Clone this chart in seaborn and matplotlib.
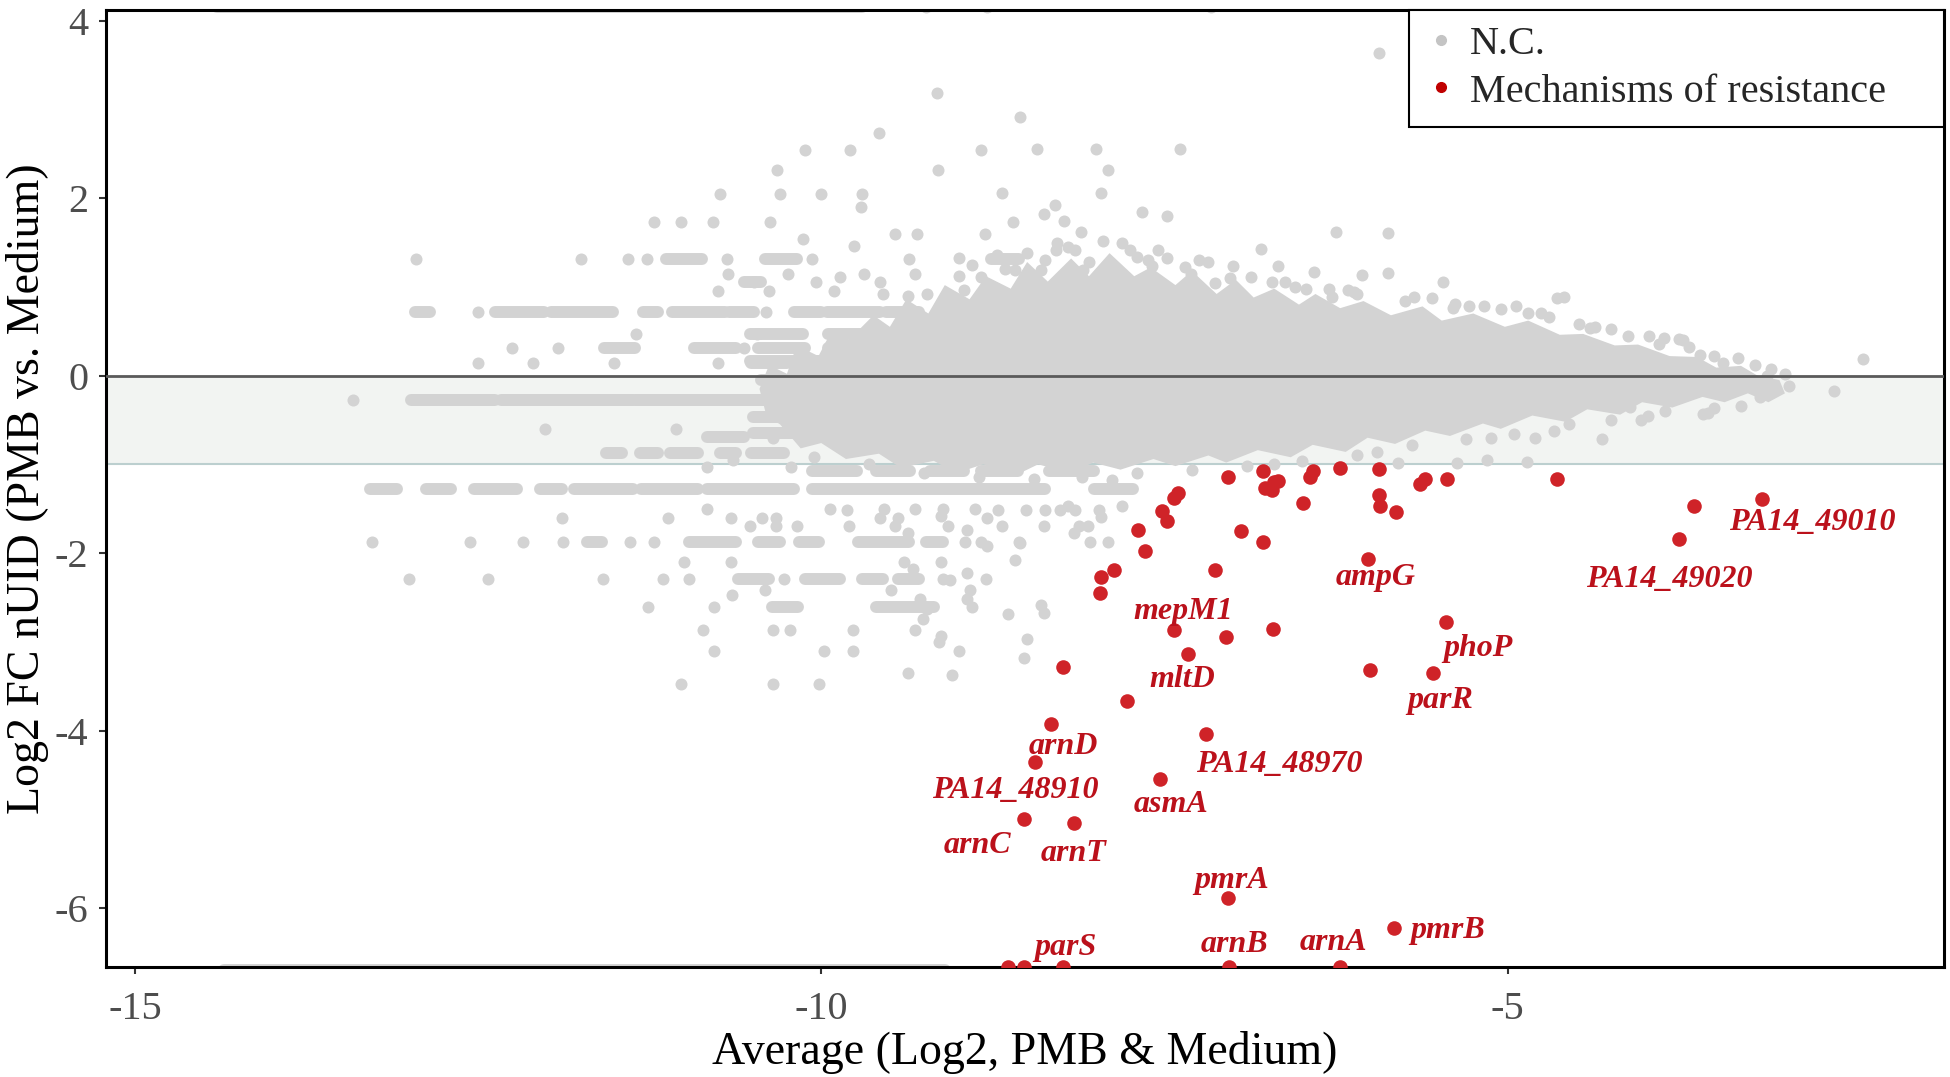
import numpy as np
import pandas as pd
import matplotlib
matplotlib.use("Agg")
import matplotlib.pyplot as plt
import seaborn as sns
from matplotlib.lines import Line2D

# ---- data ----
# outline of the saturated core of the N.C. cloud
core_x = [-10.45, -10.38, -10.25, -10.18, -10.02, -9.92, -9.8, -9.62, -9.5, -9.38, -9.22, -9.1,
          -8.92, -8.8, -8.62, -8.5, -8.35, -8.18, -8.05, -7.9, -7.72, -7.6, -7.42, -7.3, -7.12,
          -6.98, -6.85, -6.7, -6.52, -6.4, -6.22, -6.05, -5.85, -5.62, -5.48, -5.25, -5.02, -4.85,
          -4.62, -4.45, -4.22, -4.05, -3.82, -3.62, -3.48, -3.3, -3.18, -3.02,
          -2.98, -3.1,
          -3.25, -3.42, -3.58, -3.8, -4.02, -4.18, -4.42, -4.58, -4.82, -5.05, -5.18, -5.42, -5.6,
          -5.82, -6.02, -6.18, -6.42, -6.58, -6.82, -7.05, -7.18, -7.42, -7.58, -7.82, -8.02, -8.18,
          -8.42, -8.58, -8.82, -9.02, -9.18, -9.42, -9.58, -9.82, -10.0, -10.15, -10.3, -10.4]
core_y = [-0.15, 0.12, 0.02, 0.34, 0.22, 0.52, 0.4, 0.68, 0.55, 0.86, 0.7, 1.02,
          0.86, 1.12, 0.98, 1.28, 1.06, 1.32, 1.12, 1.38, 1.12, 1.22, 1.02, 1.18, 0.92,
          1.08, 0.88, 0.98, 0.8, 0.92, 0.76, 0.84, 0.68, 0.78, 0.62, 0.7, 0.55, 0.62,
          0.46, 0.47, 0.34, 0.35, 0.22, 0.21, 0.09, 0.11, 0.0, -0.05,
          -0.2, -0.3,
          -0.2, -0.3, -0.24, -0.36, -0.3, -0.44, -0.38, -0.52, -0.45, -0.6, -0.54, -0.68, -0.62,
          -0.77, -0.7, -0.86, -0.78, -0.92, -0.84, -0.98, -0.9, -1.02, -0.94, -1.06, -0.98, -1.1,
          -1.0, -1.12, -1.0, -1.1, -0.96, -1.04, -0.88, -0.94, -0.76, -0.82, -0.55, -0.45]

# runs of touching N.C. points (same y, from x0 to x1)
run_y = [0.72, 0.72, 0.72, 0.72, 0.72, 0.72, 0.72, 0.72, 0.72,
         1.31, 1.31, 1.31, 1.05,
         0.31, 0.31, 0.31, 0.31, 0.14, 0.47, 0.47, 0.17, 0.17,
         -0.27, -0.27, -0.27, -0.27, -0.27,
         -0.47, -0.47, -0.65, -0.65, -0.69, -0.05,
         -0.87, -0.87, -0.87, -0.87, -0.87,
         -1.07, -1.07, -1.07, -1.07, -1.07,
         -1.28, -1.28, -1.28, -1.28, -1.28, -1.28, -1.28, -1.28, -1.28,
         -1.87, -1.87, -1.87, -1.87, -1.87, -1.87,
         -2.29, -2.29, -2.29, -2.29, -2.61, -2.61,
         4.15, -6.70]
run_x0 = [-12.96, -12.38, -11.97, -11.30, -11.09, -10.67, -10.20, -9.96, -9.53,
          -11.13, -10.41, -8.76, -10.56,
          -11.58, -10.93, -10.46, -9.95, -10.51, -10.52, -9.95, -10.52, -9.68,
          -12.99, -12.33, -11.36, -10.28, -9.78,
          -10.50, -9.85, -10.50, -9.79, -10.83, -10.44,
          -11.57, -11.32, -11.10, -10.74, -10.51,
          -10.07, -9.60, -9.21, -8.84, -8.34,
          -13.29, -12.88, -12.53, -12.05, -11.80, -11.31, -10.83, -10.07, -8.01,
          -11.71, -10.96, -10.46, -10.16, -9.73, -9.24,
          -10.61, -10.12, -9.70, -9.44, -10.36, -9.60,
          -14.40, -14.35]
run_x1 = [-12.85, -12.02, -11.52, -11.19, -10.70, -10.49, -10.00, -9.57, -9.29,
          -10.87, -10.18, -8.56, -10.44,
          -11.36, -10.62, -10.12, -9.60, -10.25, -10.13, -9.70, -9.85, -9.35,
          -12.38, -11.37, -10.30, -9.83, -9.40,
          -9.93, -9.60, -9.96, -9.29, -10.56, -10.30,
          -11.45, -11.19, -10.90, -10.62, -10.27,
          -9.74, -9.35, -8.96, -8.57, -8.01,
          -13.09, -12.70, -12.22, -11.89, -11.37, -10.90, -10.20, -8.37, -7.73,
          -11.60, -10.62, -10.30, -10.02, -9.36, -9.11,
          -10.38, -9.86, -9.55, -9.29, -10.17, -9.18,
          -9.70, -9.10]

# single N.C. points
nc_x = [-5.94, -9.16, -8.55, -9.58,
        -10.12, -9.79, -8.84, -8.43, -8.00, -7.39,
        -10.32, -9.15, -7.91,
        -10.74, -10.30, -10.00, -9.70, -8.68, -7.96,
        -9.71, -8.38, -8.30, -7.66, -7.48,
        -11.22, -11.02, -10.79, -10.37, -8.60, -8.23,
        -9.46, -9.30, -8.81, -8.11, -6.25, -5.87,
        -10.13, -9.76, -6.80, -7.95, -7.81, -8.29, -8.15,
        -12.95, -11.75, -11.41, -11.27, -10.69, -10.07, -9.36, -9.00, -8.37, -7.70, -7.48,
        -7.59, -7.00, -6.67, -6.41, -6.06, -5.87,
        -10.68, -10.24, -9.69, -9.32, -9.86, -8.59, -8.40, -8.09, -7.87, -7.31, -8.84,
        -10.04, -9.57, -10.49, -7.13, -6.87, -5.47,
        -10.75, -10.38, -9.91, -9.55, -9.37, -9.23, -9.07, -8.96, -8.73, -6.47, -6.28, -6.12,
        -4.64, -4.59, -5.68, -5.38, -5.17, -4.94,
        -11.35, -10.47,
        -4.40, -3.97, -3.75, -3.72, -3.60, -3.43, -3.11, -3.16, -2.41, -2.62,
        -12.50, -10.40,
        -12.25, -11.92, -10.56,
        -12.50, -12.10, -11.51, -10.75,
        -13.41,
        -12.01, -11.06,
        -10.64, -10.83, -10.22,
        -3.54, -4.03, -4.31, -4.80, -4.86, -5.15, -5.37, -5.80, -4.11, -3.58,
        -10.83, -9.94, -9.54, -9.32, -9.11, -8.88,
        -11.89, -11.12, -10.66, -10.43, -10.33, -9.57, -9.44, -8.79,
        -10.52, -10.33, -10.18, -9.80,
        -9.81, -8.71, -8.51, -8.37, -8.26, -8.15, -7.98,
        -9.46, -9.08, -8.68, -8.12, -8.06,
        -9.37, -9.13, -8.94, -8.79, -8.55, -8.375, -8.16, -7.96, -7.81, -8.20,
        -13.27, -12.56, -12.17, -11.88, -11.39, -11.22, -8.95, -8.84, -8.56, -8.04, -7.91,
        -11.00, -10.66, -9.40, -9.13, -8.59,
        -13.00, -12.43, -11.59, -11.15, -10.96, -10.27, -9.11, -8.80,
        -9.33, -9.06, -8.94,
        -10.41, -9.49, -8.92, -10.65,
        -9.28, -8.94,
        -11.26, -10.78, -8.90, -8.64, -8.40, -8.375, -9.23,
        -9.26,
        -10.86, -10.35, -10.23, -9.77, -9.32,
        -9.14, -9.13, -8.50,
        -10.78, -9.98, -9.77, -9.00, -8.52,
        -9.05, -9.37,
        -11.02, -10.35, -10.02,
        -9.24, -8.79, -7.16,
        # ragged edge of the core
        -9.00, -8.90, -8.66, -8.50, -8.20, -8.05, -7.75, -7.62, -7.35, -7.18, -7.02, -6.72,
        -6.55, -6.30, -6.10, -5.75, -5.55, -5.28, -5.05, -4.85, -4.70, -4.48, -4.25, -4.12,
        -3.90, -3.68, -3.50, -3.32, -3.20, -3.08, -2.98, -2.95,
        -3.30, -3.50, -3.85, -4.25, -4.55, -4.95, -5.30, -5.70, -6.10, -6.50, -6.90, -7.30,
        -7.70, -8.10, -8.45, -8.85, -9.25, -9.65, -10.05, -10.35,
        -8.72, -8.28, -7.55, -7.25, -6.62, -6.16, -5.40, -4.76, -4.36, -3.86,
        -5.95, -5.12, -4.66, -3.98, -6.70, -7.88]
nc_y = [3.63, 3.19, 2.91, 2.73,
        2.54, 2.54, 2.54, 2.55, 2.55, 2.55,
        2.32, 2.32, 2.32,
        2.05, 2.05, 2.05, 2.05, 2.06, 2.06,
        1.90, 1.82, 1.92, 1.84, 1.80,
        1.73, 1.73, 1.73, 1.73, 1.73, 1.74,
        1.60, 1.60, 1.60, 1.62, 1.62, 1.61,
        1.54, 1.46, 1.43, 1.52, 1.49, 1.41, 1.41,
        1.31, 1.31, 1.31, 1.31, 1.31, 1.31, 1.31, 1.33, 1.30, 1.34, 1.32,
        1.24, 1.24, 1.24, 1.17, 1.13, 1.16,
        1.15, 1.15, 1.15, 1.15, 1.11, 1.19, 1.19, 1.19, 1.22, 1.15, 1.11,
        1.05, 1.05, 1.06, 1.04, 1.11, 1.05,
        0.95, 0.95, 0.95, 0.92, 0.90, 0.92, 0.89, 0.96, 0.89, 0.98, 0.89, 0.94,
        0.87, 0.89, 0.89, 0.81, 0.78, 0.78,
        0.47, 0.47,
        0.54, 0.45, 0.41, 0.40, 0.23, 0.14, -0.01, -0.24, 0.19, -0.17,
        0.72, 0.72,
        0.31, 0.31, 0.31,
        0.14, 0.14, 0.14, 0.14,
        -0.27,
        -0.60, -0.60,
        -0.95, -1.03, -1.03,
        -0.42, -0.50, -0.71, -0.70, -0.97, -0.95, -0.98, -0.99, -0.35, -0.43,
        -1.50, -1.50, -1.50, -1.50, -1.50, -1.50,
        -1.61, -1.61, -1.61, -1.61, -1.61, -1.61, -1.61, -1.61,
        -1.70, -1.70, -1.70, -1.70,
        -1.52, -1.52, -1.52, -1.52, -1.52, -1.52, -1.52,
        -1.70, -1.70, -1.70, -1.70, -1.70,
        -1.77, -1.58, -1.74, -1.92, -1.89, -1.70, -1.77, -1.59, -1.47, -1.47,
        -1.87, -1.87, -1.87, -1.87, -1.87, -1.87, -1.87, -1.87, -1.87, -1.87, -1.87,
        -2.10, -2.10, -2.10, -2.10, -2.08,
        -2.29, -2.29, -2.29, -2.29, -2.29, -2.29, -2.29, -2.29,
        -2.18, -2.30, -2.22,
        -2.42, -2.42, -2.42, -2.47,
        -2.52, -2.52,
        -2.61, -2.61, -2.61, -2.69, -2.58, -2.67, -2.63,
        -2.74,
        -2.87, -2.87, -2.87, -2.87, -2.87,
        -3.00, -2.93, -2.97,
        -3.10, -3.10, -3.10, -3.10, -3.18,
        -3.37, -3.35,
        -3.47, -3.47, -3.47,
        4.15, 4.15, 4.15,
        1.12, 1.25, 1.20, 1.38, 1.45, 1.28, 1.42, 1.30, 1.22, 1.28, 1.10, 1.05,
        1.00, 0.98, 0.92, 0.84, 0.88, 0.78, 0.75, 0.70, 0.66, 0.58, 0.52, 0.45,
        0.36, 0.32, 0.22, 0.20, 0.12, 0.08, 0.02, -0.12,
        -0.34, -0.36, -0.40, -0.50, -0.55, -0.66, -0.72, -0.78, -0.90, -0.96, -1.02, -1.06,
        -1.10, -1.14, -1.16, -1.14, -1.10, -1.00, -0.92, -0.70,
        1.36, 1.50, 1.42, 1.30, 1.06, 0.96, 0.76, 0.70, 0.55, 0.42,
        -0.86, -0.70, -0.62, -0.46, -1.00, -1.18]

# mechanisms of resistance
mr_x = [-7.04, -6.78, -6.77, -6.70, -6.67, -6.72, -6.42, -6.44, -6.22, -5.94,
        -5.94, -5.93, -5.81, -6.49, -5.64, -5.60, -5.44, -4.64, -7.40, -7.43,
        -7.52, -7.48, -7.69, -7.64, -7.87, -7.96, -7.97, -6.94, -6.78, -7.13,
        -6.02, -3.15, -3.64, -3.75, -7.43, -7.05, -6.71, -7.33, -5.45, -5.54,
        -6.00, -8.24, -7.77, -8.33, -7.20, -8.44, -7.53, -8.52, -8.16, -7.04,
        -5.825, -8.64, -8.52, -8.24, -7.03, -6.22]
mr_y = [-1.14, -1.07, -1.27, -1.20, -1.19, -1.29, -1.08, -1.14, -1.04, -1.05,
        -1.34, -1.47, -1.54, -1.44, -1.22, -1.17, -1.17, -1.16, -1.32, -1.38,
        -1.53, -1.64, -1.74, -1.98, -2.19, -2.27, -2.45, -1.75, -1.87, -2.19,
        -2.07, -1.39, -1.47, -1.84, -2.87, -2.95, -2.86, -3.14, -2.78, -3.35,
        -3.32, -3.28, -3.67, -3.93, -4.04, -4.36, -4.55, -5.00, -5.04, -5.89,
        -6.22, -6.67, -6.67, -6.67, -6.67, -6.67]

gene_labels = ["PA14_49010", "PA14_49020", "ampG", "mepM1", "phoP", "mltD", "parR",
               "arnD", "PA14_48970", "PA14_48910", "asmA", "arnC", "arnT", "pmrA",
               "pmrB", "parS", "arnB", "arnA"]
gene_x = [-2.78, -3.82, -5.96, -7.36, -5.22, -7.37, -5.49, -8.24, -6.66, -8.59,
          -7.45, -8.86, -8.16, -7.01, -5.44, -8.22, -6.99, -6.27]
gene_y = [-1.65, -2.30, -2.27, -2.66, -3.07, -3.42, -3.66, -4.18, -4.38, -4.68,
          -4.83, -5.30, -5.38, -5.69, -6.25, -6.44, -6.41, -6.39]

legend_labels = ["N.C.", "Mechanisms of resistance"]

GREY = "#d3d3d3"
RED = "#cf2328"
LABEL_RED = "#bb111b"

sns.set_style("ticks")
plt.rcParams["font.family"] = ["Liberation Serif", "DejaVu Serif"]
plt.rcParams["axes.unicode_minus"] = False

fig = plt.figure(figsize=(19.5, 10.77), dpi=100)
ax = fig.add_axes([0.0544, 0.1017, 0.9426, 0.889])

# band between 0 and -1
ax.axhspan(-1, 0, color="#f2f4f2", lw=0, zorder=0)
ax.axhline(-1, color="#bccfcf", lw=1.5, zorder=1)

# N.C. cloud
ax.fill(core_x, core_y, color=GREY, lw=0, zorder=2)
runs = ax.hlines(run_y, run_x0, run_x1, colors=GREY, linewidth=8.6, zorder=2)
runs.set_capstyle("round")
nc = pd.DataFrame({"x": nc_x, "y": nc_y})
sns.scatterplot(data=nc, x="x", y="y", s=75, color=GREY, linewidth=0, ax=ax, zorder=2)

ax.axhline(0, color="#5a5a5a", lw=2, zorder=3)

mr = pd.DataFrame({"x": mr_x, "y": mr_y})
sns.scatterplot(data=mr, x="x", y="y", s=110, color=RED, linewidth=0, ax=ax, zorder=4)

for t, x, y in zip(gene_labels, gene_x, gene_y):
    ax.text(x, y, t, color=LABEL_RED, fontsize=23, fontweight="bold", fontstyle="italic",
            ha="center", va="center", zorder=5)

ax.set_xlim(-15.21, -1.82)
ax.set_ylim(-6.67, 4.12)
ax.set_xticks([-15, -10, -5])
ax.set_yticks([-6, -4, -2, 0, 2, 4])
ax.tick_params(axis="both", labelsize=29, labelcolor="#4d4d4d", color="#333333",
               length=5, width=1.5, direction="out")
ax.tick_params(axis="x", pad=12)
ax.tick_params(axis="y", pad=8)
for sp in ax.spines.values():
    sp.set_color("black")
    sp.set_linewidth(2.2)

ax.set_xlabel("Average (Log2, PMB & Medium)", fontsize=33, color="black", labelpad=2)
ax.set_ylabel("Log2 FC nUID (PMB vs. Medium)", fontsize=33, color="black", labelpad=4)

handles = [Line2D([], [], marker="o", ls="", color="#c4c4c4", markersize=7),
           Line2D([], [], marker="o", ls="", color="#c00000", markersize=7)]
leg = ax.legend(handles, legend_labels, loc="upper left", bbox_to_anchor=(0.709, 0.0, 0.291, 1.0),
                mode="expand", borderaxespad=0, fontsize=29, frameon=True, fancybox=False,
                edgecolor="black", framealpha=1, handlelength=0.8, handletextpad=0.3,
                borderpad=0.4, labelspacing=0.25)
leg.get_frame().set_linewidth(1.5)
leg.set_zorder(6)

fig.savefig("out.png", dpi=100)
